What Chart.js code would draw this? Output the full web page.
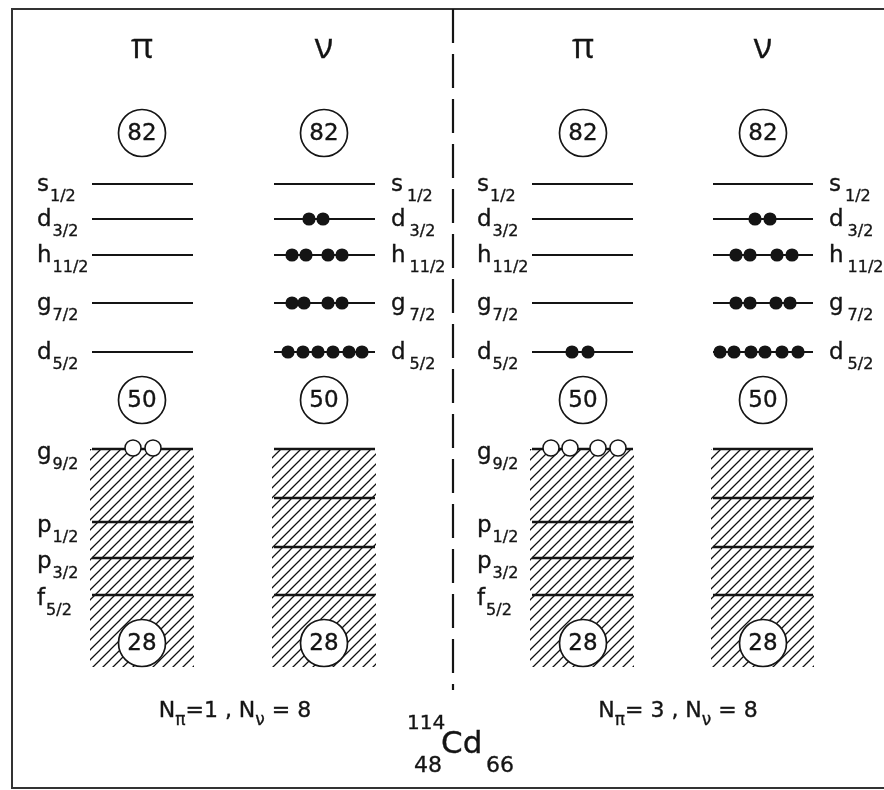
<!DOCTYPE html>
<html>
<head>
<meta charset="utf-8">
<script src="https://cdn.jsdelivr.net/npm/chart.js@4.4.1/dist/chart.umd.min.js"></script>
<style>
html,body{margin:0;padding:0;background:#fff;}
#wrap{width:884px;height:790px;position:relative;}
</style>
</head>
<body>
<div id="wrap"><canvas id="c"></canvas></div>
<script>
// ---------------- DATA (diagram units) ----------------
const columnTitles   = ['π', 'ν', 'π', 'ν'];
const columnCenters  = [142, 324, 583, 763];
const columnStarts   = [92, 274, 532, 713];
const columnEnds     = [193, 375, 633, 813];
const columnKinds    = ['p', 'n', 'p', 'n'];

const upperOrbitals  = ['s', 'd', 'h', 'g', 'd'];
const upperSpins     = ['1/2', '3/2', '11/2', '7/2', '5/2'];
const upperLevels    = [184, 219, 255, 303, 352];

const protonCoreOrbitals = ['g', 'p', 'p', 'f'];
const protonCoreSpins    = ['9/2', '1/2', '3/2', '5/2'];
const protonCoreLevels   = [449, 522, 558, 595];
const neutronCoreLevels  = [449, 498, 547, 595];
const coreBottom         = 667;

const magicNumbers = [82, 50, 28];
const magicLevels  = [133, 400, 643];

// valence neutron particles (filled dots) on d3/2, h11/2, g7/2, d5/2
const neutronDotsLeft  = [[309, 323], [292, 306, 328, 342], [292, 304, 328, 342], [288, 303, 318, 333, 349, 362]];
const neutronDotsRight = [[755, 770], [736, 750, 777, 792], [736, 750, 776, 790], [720, 734, 751, 765, 782, 798]];
// valence proton particles (filled) on d5/2 (right panel)
const protonDotsRight  = [572, 588];
// proton holes (open circles) in g9/2
const protonHolesLeft  = [133, 153];
const protonHolesRight = [551, 570, 598, 618];

const panelLabels = [
  [['N', 0], ['π', 1], ['=1 , N', 0], ['ν', 1], [' = 8', 0]],
  [['N', 0], ['π', 1], ['= 3 , N', 0], ['ν', 1], [' = 8', 0]]
];
const panelLabelCenters = [235, 678];
const dividerX = 453;

// ---------------- BUILD ----------------
const canvas = document.getElementById('c');
const mainCtx = canvas.getContext('2d');

function makeHatch() {
  const s = 10;
  const c = document.createElement('canvas');
  c.width = s; c.height = s;
  const g = c.getContext('2d');
  g.strokeStyle = '#111';
  g.lineWidth = 1.25;
  g.beginPath();
  g.moveTo(-1, s + 1); g.lineTo(s + 1, -1);
  g.moveTo(-2, 2); g.lineTo(2, -2);
  g.moveTo(s - 2, s + 2); g.lineTo(s + 2, s - 2);
  g.stroke();
  return mainCtx.createPattern(c, 'repeat');
}
const hatch = makeHatch();

const INK = '#141414';
const datasets = [];

// hatched filled cores
for (let i = 0; i < 4; i++) {
  datasets.push({
    data: [{x: columnStarts[i] - 2, y: protonCoreLevels[0]}, {x: columnEnds[i] + 1, y: protonCoreLevels[0]}],
    fill: {value: coreBottom},
    backgroundColor: hatch,
    borderWidth: 0,
    pointRadius: 0,
    order: 30
  });
}

function levelLine(x0, x1, y, w) {
  datasets.push({
    data: [{x: x0, y: y}, {x: x1, y: y}],
    borderColor: INK, borderWidth: w, pointRadius: 0, fill: false, order: 20
  });
}
for (let i = 0; i < 4; i++) {
  upperLevels.forEach(y => levelLine(columnStarts[i], columnEnds[i], y, 2));
  const core = columnKinds[i] === 'p' ? protonCoreLevels : neutronCoreLevels;
  core.forEach(y => levelLine(columnStarts[i], columnEnds[i], y, 2.6));
}

// magic-number circles
const magicPts = [];
columnCenters.forEach(cx => magicLevels.forEach(y => magicPts.push({x: cx, y: y})));
datasets.push({
  data: magicPts, showLine: false, pointRadius: 23.5, pointHoverRadius: 23.5,
  pointBackgroundColor: '#fff', pointBorderColor: INK, pointBorderWidth: 1.7, order: 10
});

// filled particles
const filled = [];
[neutronDotsLeft, neutronDotsRight].forEach(set => set.forEach((xs, k) => xs.forEach(x => filled.push({x: x, y: upperLevels[k + 1]}))));
protonDotsRight.forEach(x => filled.push({x: x, y: upperLevels[4]}));
datasets.push({
  data: filled, showLine: false, pointRadius: 6.6, pointHoverRadius: 6.6,
  pointBackgroundColor: INK, pointBorderColor: INK, pointBorderWidth: 0, order: 5
});

// holes
const holes = [];
protonHolesLeft.concat(protonHolesRight).forEach(x => holes.push({x: x, y: protonCoreLevels[0] - 1}));
datasets.push({
  data: holes, showLine: false, pointRadius: 8, pointHoverRadius: 8,
  pointBackgroundColor: '#fff', pointBorderColor: INK, pointBorderWidth: 1.5, order: 5
});

// dashed divider
datasets.push({
  data: [{x: dividerX, y: 9}, {x: dividerX, y: 690}],
  borderColor: INK, borderWidth: 2.2, borderDash: [34, 11], pointRadius: 0, fill: false, order: 20
});
// frame
datasets.push({
  data: [{x: 890, y: 9}, {x: 12, y: 9}, {x: 12, y: 788}, {x: 890, y: 788}],
  borderColor: '#333', borderWidth: 2, pointRadius: 0, fill: false, order: 20
});

const FONT = '"DejaVu Sans", "Liberation Sans", sans-serif';
const TITLE_FONT = '"Open Sans", "DejaVu Sans", sans-serif';

const textPlugin = {
  id: 'diagramText',
  afterDatasetsDraw(chart) {
    const ctx = chart.ctx;
    const X = v => chart.scales.x.getPixelForValue(v);
    const Y = v => chart.scales.y.getPixelForValue(v);
    ctx.save();
    ctx.fillStyle = INK;
    ctx.strokeStyle = INK;
    ctx.lineWidth = 0.35;
    ctx.textBaseline = 'alphabetic';
    const put = (t, x, y) => { ctx.fillText(t, x, y); ctx.strokeText(t, x, y); };

    // column titles
    ctx.textAlign = 'center';
    ctx.font = '34px ' + TITLE_FONT;
    columnTitles.forEach((t, i) => put(t, X(columnCenters[i]), Y(58)));

    // magic numbers
    ctx.font = '23px ' + FONT;
    ctx.textBaseline = 'middle';
    columnCenters.forEach(cx => magicNumbers.forEach((m, k) => put(String(m), X(cx), Y(magicLevels[k]) + 1)));
    ctx.textBaseline = 'alphabetic';
    ctx.textAlign = 'left';

    function orbital(x, y, letter, spin, gap) {
      ctx.font = '23px ' + FONT;
      put(letter, X(x), Y(y) + 7);
      const w = ctx.measureText(letter).width;
      ctx.font = '16px ' + FONT;
      put(spin, X(x) + w + gap, Y(y) + 17);
    }
    // proton labels (left of column) in both panels
    [0, 2].forEach(i => {
      const lx = columnStarts[i] - 55;
      upperLevels.forEach((y, k) => orbital(lx, y, upperOrbitals[k], upperSpins[k], 1));
      protonCoreLevels.forEach((y, k) => orbital(lx, y + 3, protonCoreOrbitals[k], protonCoreSpins[k], 1));
    });
    // neutron labels (right of column)
    [1, 3].forEach(i => {
      const lx = columnEnds[i] + 16;
      upperLevels.forEach((y, k) => orbital(lx, y, upperOrbitals[k], upperSpins[k], 4));
    });

    // panel labels
    panelLabels.forEach((runs, p) => {
      let total = 0;
      runs.forEach(r => { ctx.font = (r[1] ? '17px ' : '22px ') + FONT; total += ctx.measureText(r[0]).width; });
      let x = X(panelLabelCenters[p]) - total / 2;
      const base = Y(717);
      runs.forEach(r => {
        ctx.font = (r[1] ? '17px ' : '22px ') + FONT;
        put(r[0], x, base + (r[1] ? 8 : 0));
        x += ctx.measureText(r[0]).width;
      });
    });

    // nucleus label
    ctx.font = '20px ' + FONT;
    put('114', X(407), Y(729));
    ctx.font = '22px ' + FONT;
    put('48', X(414), Y(772));
    put('66', X(486), Y(772));
    ctx.font = '31px ' + FONT;
    put('Cd', X(441), Y(753));
    ctx.restore();
  }
};

new Chart(canvas, {
  type: 'line',
  data: {datasets: datasets},
  options: {
    responsive: true,
    maintainAspectRatio: false,
    animation: false,
    devicePixelRatio: 1,
    layout: {padding: 0, autoPadding: false},
    events: [],
    plugins: {legend: {display: false}, tooltip: {enabled: false}},
    elements: {line: {tension: 0}},
    scales: {
      x: {type: 'linear', min: 0, max: 884, display: false},
      y: {type: 'linear', min: 0, max: 790, reverse: true, display: false}
    }
  },
  plugins: [textPlugin]
});
</script>
</body>
</html>
